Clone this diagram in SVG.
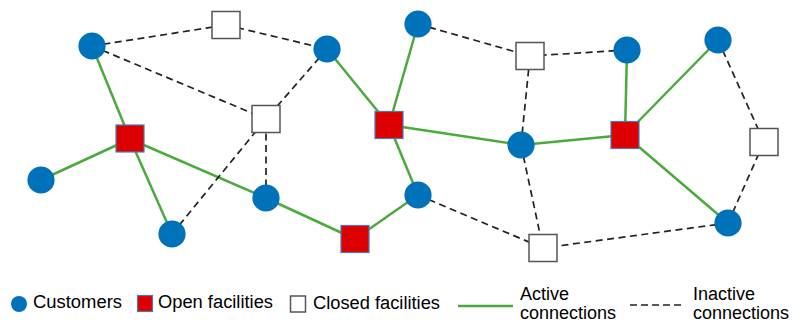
<svg xmlns="http://www.w3.org/2000/svg" width="797" height="323" viewBox="0 0 797 323">
  <style>
    .cust { fill: #0072b9; }
    .open { fill: #dd0000; stroke: #4a7ab4; stroke-width: 1.2; }
    .closed { fill: #ffffff; stroke: #555555; stroke-width: 1.5; }
    .active { stroke: #4aaa3c; stroke-width: 2.5; fill: none; }
    .inactive { stroke: #222222; stroke-width: 1.7; stroke-dasharray: 7 4.5; fill: none; }
    text { font-family: "Liberation Sans", Arial, sans-serif; font-size: 18px; fill: #000000; }
  </style>
  <rect width="797" height="323" fill="#ffffff"/>

  <!-- connections between customers and facilities -->
  <g id="connectors">
    <g id="active-connections">
      <line class="active" x1="92" y1="46" x2="130" y2="139"/>
      <line class="active" x1="41" y1="180" x2="130" y2="139"/>
      <line class="active" x1="172" y1="234" x2="130" y2="139"/>
      <line class="active" x1="266" y1="198" x2="130" y2="139"/>
      <line class="active" x1="266" y1="198" x2="355" y2="239"/>
      <line class="active" x1="418" y1="195" x2="355" y2="239"/>
      <line class="active" x1="418" y1="195" x2="389" y2="125"/>
      <line class="active" x1="327" y1="49" x2="389" y2="125"/>
      <line class="active" x1="418" y1="24" x2="389" y2="125"/>
      <line class="active" x1="521" y1="145" x2="389" y2="125"/>
      <line class="active" x1="521" y1="145" x2="625" y2="135"/>
      <line class="active" x1="627" y1="50" x2="625" y2="135"/>
      <line class="active" x1="718" y1="40" x2="625" y2="135"/>
      <line class="active" x1="728" y1="223" x2="625" y2="135"/>
    </g>
    <g id="inactive-connections">
      <line class="inactive" x1="92" y1="46" x2="226" y2="25"/>
      <line class="inactive" x1="226" y1="25" x2="327" y2="49"/>
      <line class="inactive" x1="92" y1="46" x2="266" y2="119"/>
      <line class="inactive" x1="327" y1="49" x2="266" y2="119"/>
      <line class="inactive" x1="172" y1="234" x2="266" y2="119"/>
      <line class="inactive" x1="266" y1="198" x2="266" y2="119"/>
      <line class="inactive" x1="418" y1="24" x2="530" y2="56"/>
      <line class="inactive" x1="627" y1="50" x2="530" y2="56"/>
      <line class="inactive" x1="521" y1="145" x2="530" y2="56"/>
      <line class="inactive" x1="521" y1="145" x2="543" y2="248"/>
      <line class="inactive" x1="418" y1="195" x2="543" y2="248"/>
      <line class="inactive" x1="728" y1="223" x2="543" y2="248"/>
      <line class="inactive" x1="718" y1="40" x2="764" y2="142"/>
      <line class="inactive" x1="728" y1="223" x2="764" y2="142"/>
    </g>
  </g>

  <!-- closed facilities -->
  <g id="closed-1"><rect class="closed" x="212" y="11.5" width="28" height="27"/></g>
  <g id="closed-2"><rect class="closed" x="252" y="105.5" width="28" height="27"/></g>
  <g id="closed-3"><rect class="closed" x="516" y="42.5" width="28" height="27"/></g>
  <g id="closed-4"><rect class="closed" x="529" y="234.5" width="28" height="27"/></g>
  <g id="closed-5"><rect class="closed" x="750" y="128.5" width="28" height="27"/></g>

  <!-- open facilities -->
  <g id="open-1"><rect class="open" x="116" y="125" width="28" height="27"/></g>
  <g id="open-2"><rect class="open" x="375" y="111.5" width="28" height="27"/></g>
  <g id="open-3"><rect class="open" x="341" y="225.5" width="28" height="27"/></g>
  <g id="open-4"><rect class="open" x="611" y="121.5" width="28" height="27"/></g>

  <!-- customers -->
  <g id="customer-1"><circle class="cust" cx="92" cy="46" r="13.6"/></g>
  <g id="customer-2"><circle class="cust" cx="41" cy="180" r="13.6"/></g>
  <g id="customer-3"><circle class="cust" cx="172" cy="234" r="13.6"/></g>
  <g id="customer-4"><circle class="cust" cx="266" cy="198" r="13.6"/></g>
  <g id="customer-5"><circle class="cust" cx="327" cy="49" r="13.6"/></g>
  <g id="customer-6"><circle class="cust" cx="418" cy="24" r="13.6"/></g>
  <g id="customer-7"><circle class="cust" cx="418" cy="195" r="13.6"/></g>
  <g id="customer-8"><circle class="cust" cx="521" cy="145" r="13.6"/></g>
  <g id="customer-9"><circle class="cust" cx="627" cy="50" r="13.6"/></g>
  <g id="customer-10"><circle class="cust" cx="718" cy="40" r="13.6"/></g>
  <g id="customer-11"><circle class="cust" cx="728" cy="223" r="13.6"/></g>

  <!-- legend -->
  <g id="legend">
    <circle class="cust" cx="19" cy="304" r="8"/>
    <text x="33" y="308" textLength="89" lengthAdjust="spacingAndGlyphs">Customers</text>
    <rect class="open" x="137.5" y="295.5" width="15" height="16"/>
    <text x="158" y="308" textLength="115" lengthAdjust="spacingAndGlyphs">Open facilities</text>
    <rect class="closed" x="290.5" y="296" width="15" height="16"/>
    <text x="313" y="309" textLength="127" lengthAdjust="spacingAndGlyphs">Closed facilities</text>
    <line class="active" x1="458" y1="306" x2="513" y2="306"/>
    <text x="520" y="300">Active</text>
    <text x="520" y="319">connections</text>
    <line class="inactive" x1="630" y1="305" x2="682" y2="305" style="stroke-dasharray: 7 4"/>
    <text x="693" y="300">Inactive</text>
    <text x="693" y="319">connections</text>
  </g>
</svg>
